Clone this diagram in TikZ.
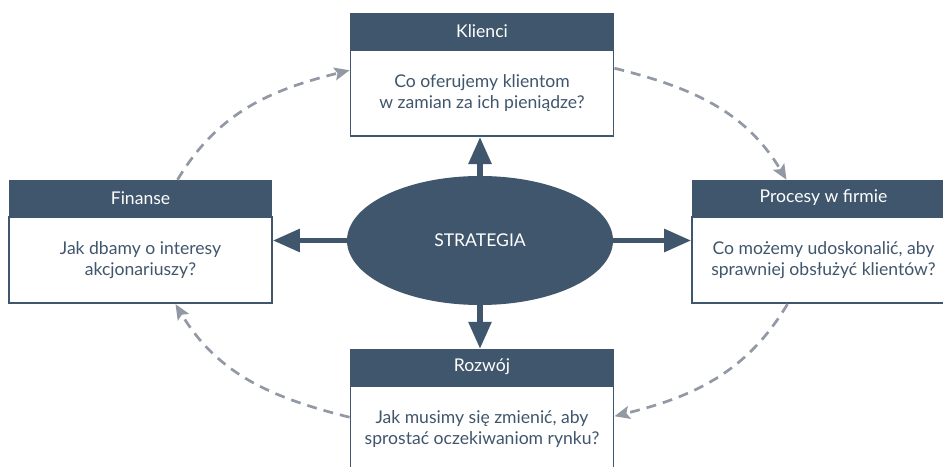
\documentclass[tikz,border=0pt]{standalone}
\usepackage{fontspec}
\setmainfont{Lato}
\usetikzlibrary{arrows.meta, positioning, shapes.geometric, calc}
\definecolor{slate}{HTML}{40566C}
\definecolor{dashgray}{HTML}{9298A4}

\begin{document}
\begin{tikzpicture}[x=0.03cm, y=0.03cm,
    head/.style={fill=slate, text=white, minimum width=7.89cm, minimum height=1.08cm, inner sep=0pt, font=\fontsize{15}{18}\selectfont},
    question/.style={draw=slate, line width=1.6pt, fill=white, text=slate, minimum width=7.89cm, minimum height=2.58cm, align=center, inner sep=0pt, font=\fontsize{15}{17.5}\selectfont},
    core/.style={ellipse, fill=slate, text=white, minimum width=7.98cm, minimum height=3.87cm, inner sep=0pt, font=\fontsize{15}{18}\selectfont},
    push/.style={draw=slate, line width=4.3pt, -{Triangle[length=23pt, width=19pt]}},
    cycleline/.style={draw=dashgray, line width=2.3pt, dash pattern=on 8.5pt off 6pt, -{Stealth[length=13pt, width=11pt, inset=2.5pt]}}
]
\useasboundingbox (0,0) rectangle (943,466);
\clip (0,0) rectangle (943,466);

% Strategy in the middle
\node[core] (core) at (480,225.5) {STRATEGIA};

% Four perspectives
\node[head] (klh) at (482,435) {Klienci};
\node[question, below=0pt of klh] (klb) {Co oferujemy klientom\\w zamian za ich pieniądze?};

\node[head] (fih) at (140.5,268) {Finanse};
\node[question, below=0pt of fih] (fib) {Jak dbamy o interesy\\akcjonariuszy?};

\node[head] (prh) at (823.5,268) {Procesy w firmie};
\node[question, below=0pt of prh] (prb) {Co możemy udoskonalić, aby\\sprawniej obsłużyć klientów?};

\node[head] (roh) at (482,99) {Rozwój};
\node[question, below=0pt of roh] (rob) {Jak musimy się zmienić, aby\\sprostać oczekiwaniom rynku?};

% Arrows out of the strategy
\draw[push] (core.north) -- (core.north |- klb.south);
\draw[push] (core.south) -- (core.south |- roh.north);
\draw[push] (core.west) -- (core.west -| fib.east);
\draw[push] (core.east) -- (core.east -| prb.west);

% Dashed cycle
\draw[cycleline] ($(fih.north)+(37,0)$) to[out=59, in=194] ($(klb.north west)+(0,-21)$);
\draw[cycleline] ($(klb.north east)+(0,-19)$) to[out=-14, in=121] ($(prh.north)+(-37,0)$);
\draw[cycleline] ($(prb.south)+(-36,0)$) to[out=239, in=14] ($(rob.north east)+(0,-31)$);
\draw[cycleline] ($(rob.north west)+(0,-32)$) to[out=166, in=301] ($(fib.south)+(35,0)$);

\end{tikzpicture}
\end{document}
